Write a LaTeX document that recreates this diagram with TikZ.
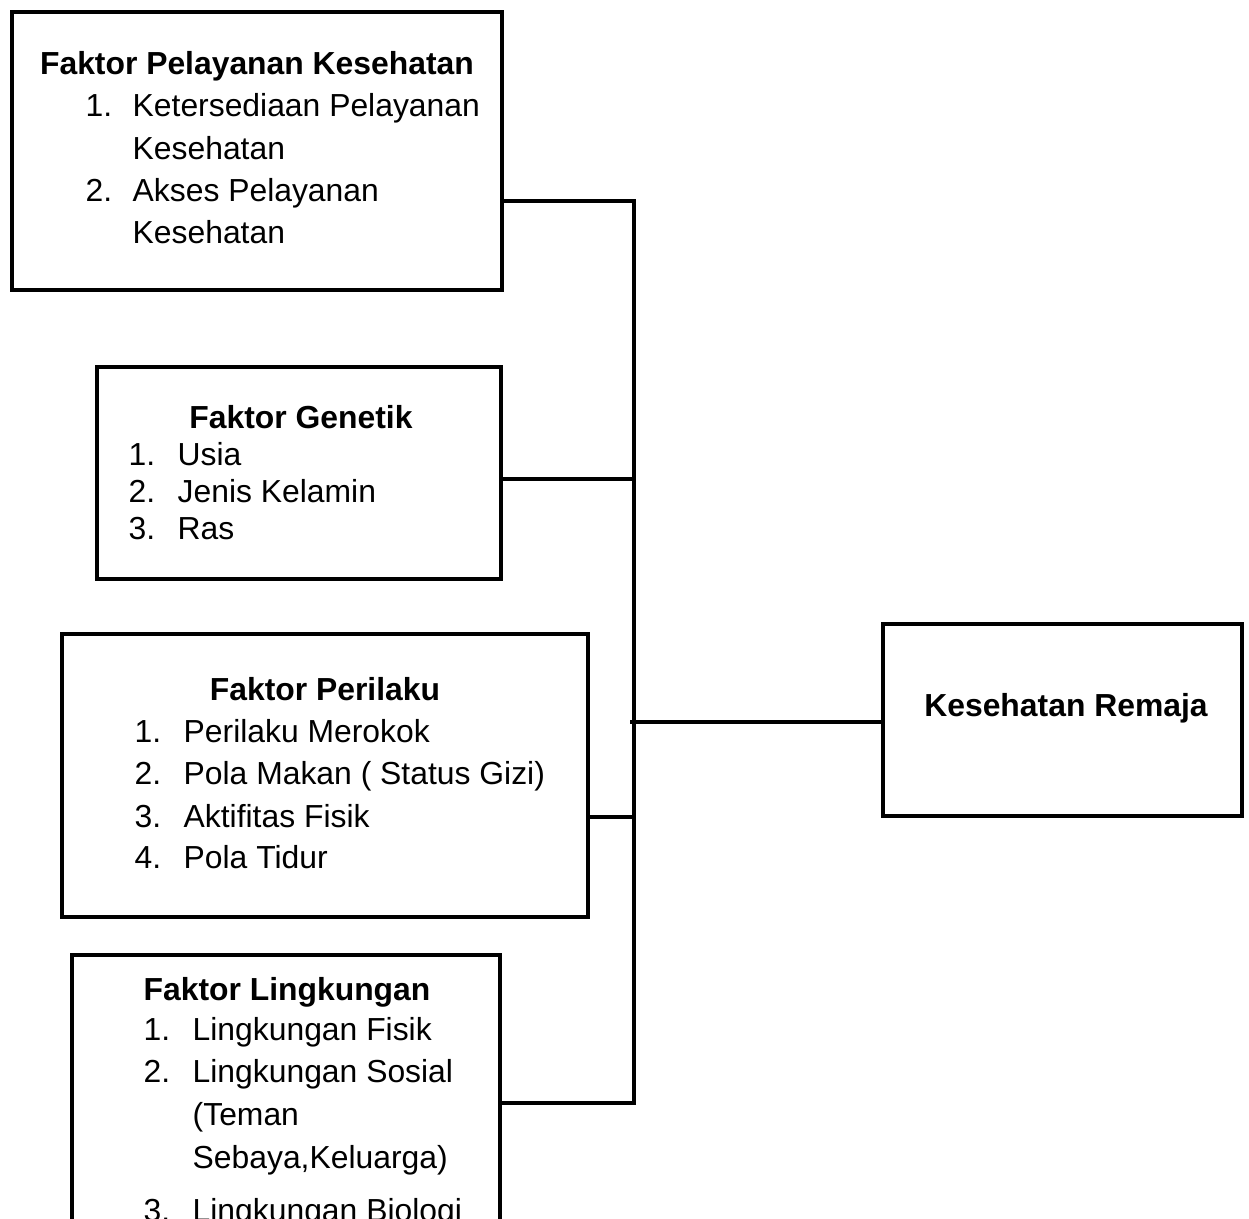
\documentclass[tikz,border=0pt]{standalone}
\usepackage{fontspec}
\setmainfont{Liberation Sans}
\begin{document}
\fontsize{9.06pt}{10pt}\selectfont
\begin{tikzpicture}
[x=0.01cm,y=-0.01cm,%
  factorBox/.style={shape=rectangle,draw,line width=1.3pt,inner sep=0pt},%
  titleText/.style={font=\bfseries,anchor=base,inner sep=0pt},%
  itemText/.style={anchor=base west,inner sep=0pt},%
  linkLine/.style={line width=1.3pt}]
\useasboundingbox (0,0) rectangle (1249,1219);
\clip (0,0) rectangle (1249,1219);
%% boxes
\node (pelayanan) at (257,151) [factorBox,minimum width=4.90cm,minimum height=2.78cm] {};
\node (genetik) at (299,473) [factorBox,minimum width=4.04cm,minimum height=2.12cm] {};
\node (perilaku) at (325,775.5) [factorBox,minimum width=5.26cm,minimum height=2.83cm] {};
\node (lingkungan) at (286,1110) [factorBox,minimum width=4.28cm,minimum height=3.10cm] {};
\node (remaja) at (1062.5,720) [factorBox,minimum width=3.59cm,minimum height=1.92cm] {};
%% titles
\node (pelayananTitle) at (257,75) [titleText] {Faktor Pelayanan Kesehatan};
\node (genetikTitle) at (301,429) [titleText] {Faktor Genetik};
\node (perilakuTitle) at (325,700) [titleText] {Faktor Perilaku};
\node (lingkunganTitle) at (287,1000) [titleText] {Faktor Lingkungan};
\node (remajaTitle) at (1066,716) [titleText] {Kesehatan Remaja};
%% list items
\foreach \num/\txt/\y in {1/Ketersediaan Pelayanan/117, 0/Kesehatan/160,
  2/Akses Pelayanan/202, 0/Kesehatan/244}
{
  \ifnum\num>0 \node (pelNum\y) at (85,\y) [itemText] {\num.}; \fi
  \node (pelItem\y) at (132,\y) [itemText] {\txt};
}
\foreach \num/\txt/\y in {1/Usia/466, 2/Jenis Kelamin/503, 3/Ras/540}
{
  \node (genNum\num) at (128,\y) [itemText] {\num.};
  \node (genItem\num) at (177,\y) [itemText] {\txt};
}
\foreach \num/\txt/\y in {1/Perilaku Merokok/742, 2/Pola Makan ( Status Gizi)/784,
  3/Aktifitas Fisik/827, 4/Pola Tidur/868}
{
  \node (perNum\num) at (134,\y) [itemText] {\num.};
  \node (perItem\num) at (183,\y) [itemText] {\txt};
}
\foreach \num/\txt/\y in {1/Lingkungan Fisik/1040, 2/Lingkungan Sosial/1082,
  0/(Teman/1125, 0/{Sebaya,Keluarga)}/1168, 3/Lingkungan Biologi/1221}
{
  \ifnum\num>0 \node (linNum\y) at (143,\y) [itemText] {\num.}; \fi
  \node (linItem\y) at (192,\y) [itemText] {\txt};
}
%% connectors
\coordinate (jPel) at (634,201);
\coordinate (jGen) at (634,479);
\coordinate (jPer) at (634,817);
\coordinate (jLin) at (634,1103);
\coordinate (jRem) at (634,722);
\draw[linkLine] (pelayanan.east |- jPel) -- (jPel) -- (jLin) -- (lingkungan.east |- jLin);
\draw[linkLine] (genetik.east |- jGen) -- (jGen);
\draw[linkLine] (perilaku.east |- jPer) -- (jPer);
\draw[linkLine] ([xshift=-0.04cm]jRem) -- (remaja.west |- jRem);
\end{tikzpicture}
\end{document}
